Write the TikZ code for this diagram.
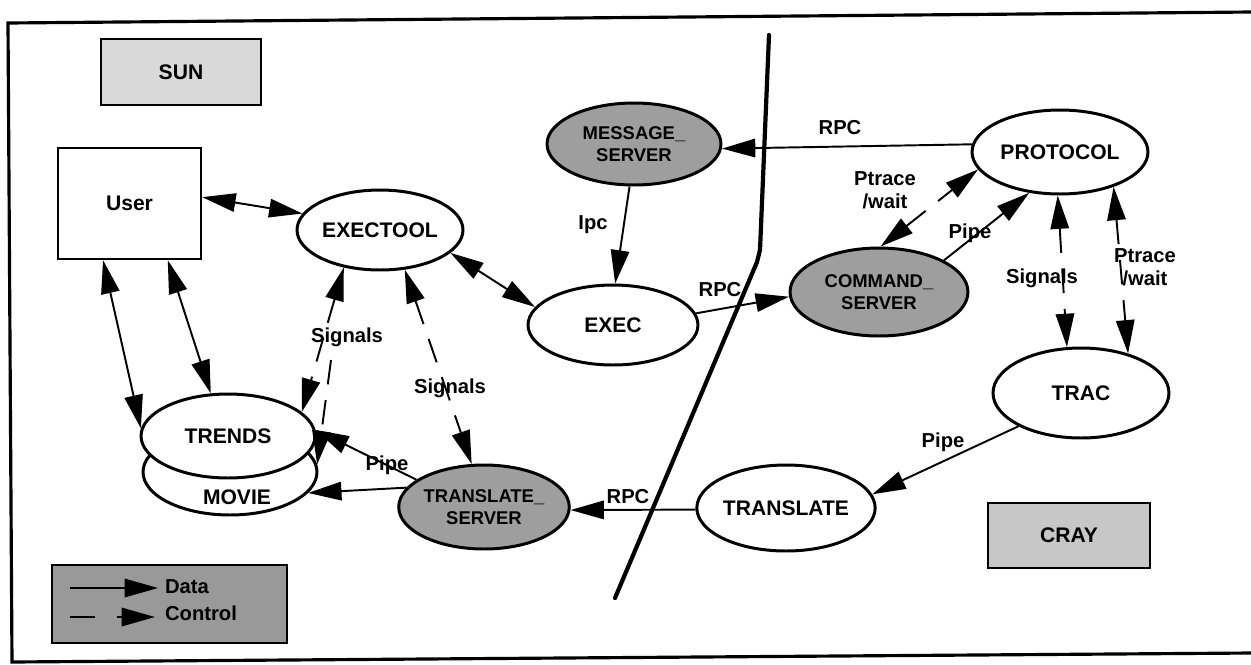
\documentclass[tikz,border=0pt]{standalone}
\usepackage{fontspec}
\setmainfont{Liberation Sans}
\usetikzlibrary{arrows.meta,shapes.geometric}
\begin{document}
\begin{tikzpicture}[x=0.02cm,y=-0.02cm,
  bigtip/.tip={Triangle[length=19pt,width=10.5pt]},
  proc/.style={ellipse, draw, line width=1.7pt, fill=white, inner sep=0pt,
    font=\fontsize{12}{13}\selectfont\bfseries},
  srv/.style={proc, fill=black!38, align=center,
    font=\fontsize{10.5}{12.5}\selectfont\bfseries},
  boxnode/.style={rectangle, draw, line width=1.4pt, inner sep=0pt,
    font=\fontsize{12}{13}\selectfont\bfseries},
  lbl/.style={inner sep=1pt, align=center,
    font=\fontsize{11.5}{13}\selectfont\bfseries},
  data/.style={line width=1.1pt, -bigtip},
  databoth/.style={line width=1.1pt, bigtip-bigtip},
  ctrl/.style={data, dash pattern=on 14pt off 9pt},
  ctrlboth/.style={databoth, dash pattern=on 14pt off 9pt}]
\useasboundingbox (0,0) rectangle (1251,664);
% frame
\draw[line width=1.8pt] (1251,12) -- (8,23) -- (12,662) -- (1251,653);
% divider between SUN and CRAY
\draw[line width=2.4pt, line cap=round, line join=round]
  (769,35) -- (760,250) -- (757,262) -- (615,598);

% region boxes
\node[boxnode, fill=black!15, minimum width=3.2cm, minimum height=1.32cm] (sun) at (181,72) {SUN};
\node[boxnode, fill=black!22, minimum width=3.24cm, minimum height=1.3cm] (cray) at (1069,535.5) {CRAY};
\node[boxnode, fill=white, minimum width=2.86cm, minimum height=2.22cm] (user) at (129.5,203.5) {User};

% processes
\node[proc, minimum width=3.32cm, minimum height=1.6cm] (exectool) at (380,230) {EXECTOOL};
\node[srv, minimum width=3.48cm, minimum height=1.64cm] (msg) at (634,144) {MESSAGE\_\\SERVER};
\node[proc, minimum width=3.4cm, minimum height=1.6cm] (exec) at (613,325) {EXEC};
\node[srv, minimum width=3.56cm, minimum height=1.76cm] (cmd) at (879,292) {COMMAND\_\\SERVER};
\node[proc, minimum width=3.52cm, minimum height=1.68cm] (protocol) at (1060,152) {PROTOCOL};
\node[proc, minimum width=3.52cm, minimum height=1.8cm] (trac) at (1081,393) {TRAC};
\node[proc, minimum width=3.56cm, minimum height=1.72cm] (translate) at (786,508) {TRANSLATE};
\node[srv, minimum width=3.32cm, minimum height=1.68cm] (tserver) at (484,507) {TRANSLATE\_\\SERVER};
\node[proc, minimum width=3.48cm, minimum height=1.72cm] (movie) at (230,472) {};
\node[lbl, font=\fontsize{12}{13}\selectfont\bfseries] (movietext) at (237,497) {MOVIE};
\node[proc, minimum width=3.48cm, minimum height=1.68cm] (trends) at (228,436) {TRENDS};

% legend
\node[boxnode, fill=black!40, minimum width=4.7cm, minimum height=1.56cm] (legend) at (169.5,604) {};
\coordinate (dataA) at (70,588);
\coordinate (dataB) at (158,588);
\coordinate (ctrlA) at (70,617);
\coordinate (ctrlB) at (155,617);
\draw[data] (dataA) -- (dataB);
\draw[line width=1.1pt, -bigtip, dash pattern=on 14pt off 13pt] (ctrlA) -- (ctrlB);
\node[lbl, anchor=west] (datatext) at (163,587) {Data};
\node[lbl, anchor=west] (ctrltext) at (163,613) {Control};

% connectors
\draw[databoth] (user.5) -- (exectool.168);
\draw[databoth] (user.245) -- (trends.175);
\draw[databoth] (user.304) -- (trends.112);
\draw[databoth] (exectool.342) -- (exec.167.7);
\draw[data] (msg.264.6) -- (exec.87);
\draw[data] (protocol.175.4) -- (msg.357.4);
\draw[data] (exec.8.8) -- (cmd.183.2);
\draw[ctrlboth] (cmd.88.7) -- (protocol.192);
\draw[data] (cmd.26.6) -- (protocol.233.7);
\draw[ctrlboth] (protocol.267.3) -- (trac.107.3);
\draw[ctrlboth] (protocol.327.7) -- (trac.40.5);
\draw[data] (trac.208.7) -- (translate.9.6);
\draw[data] (translate.181.3) -- (tserver.358);
\draw[ctrlboth] (exectool.226.5) -- (trends.18.7);
\coordinate (sigB) at (331,360);
\draw[ctrl] (sigB) -- (movie.5);
\draw[ctrlboth] (exectool.302) -- (tserver.106);
\draw[data] (tserver.158) -- (trends.4);
\draw[data] (tserver.166) -- (movie.345);

% connector labels
\node[lbl] (ipc) at (593,225) {Ipc};
\node[lbl] (rpc1) at (840,128) {RPC};
\node[lbl] (rpc2) at (720,290) {RPC};
\node[lbl] (ptrace1) at (885,190) {Ptrace\\/wait};
\node[lbl] (pipe1) at (970,233) {Pipe};
\node[lbl] (sig3) at (1042,278) {Signals};
\node[lbl] (ptrace2) at (1145,267) {Ptrace\\/wait};
\node[lbl] (pipe2) at (943,442) {Pipe};
\node[lbl] (rpc3) at (628,497) {RPC};
\node[lbl] (sig1) at (347,337) {Signals};
\node[lbl] (sig2) at (450,388) {Signals};
\node[lbl] (pipe3) at (387,465) {Pipe};
\end{tikzpicture}
\end{document}
